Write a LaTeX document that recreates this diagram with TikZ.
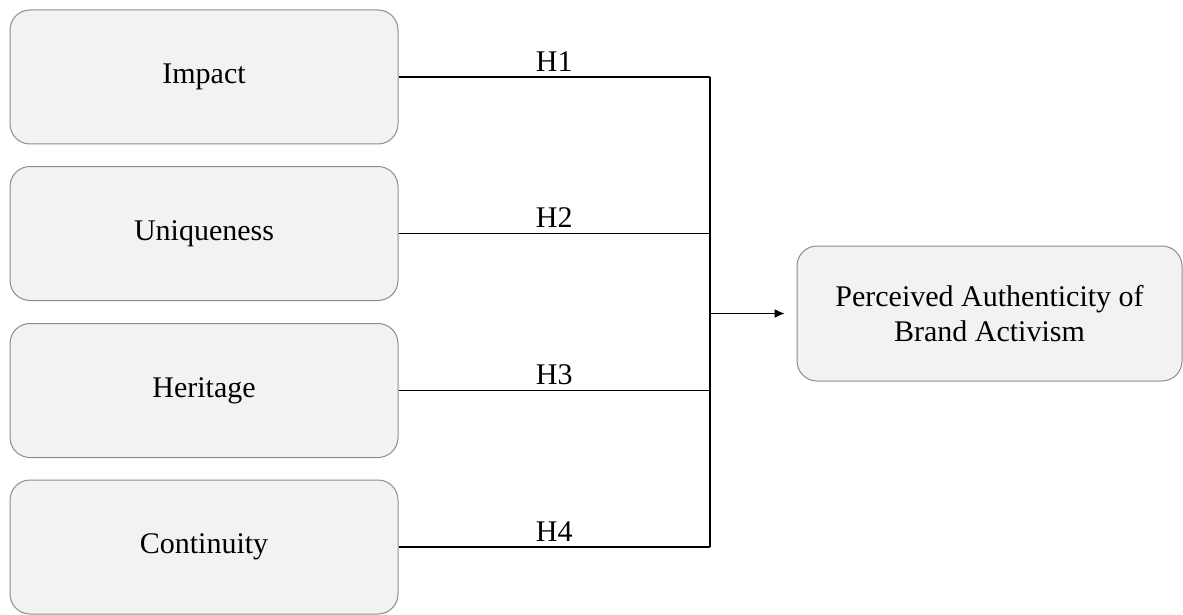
\documentclass[tikz,border=0pt]{standalone}
\usepackage{fontspec}
\setmainfont{Liberation Serif}
\usetikzlibrary{arrows.meta,calc}
\definecolor{boxfill}{HTML}{F2F2F2}
\definecolor{boxline}{HTML}{8C8C8C}
\tikzset{
  varbox/.style={draw=boxline, line width=0.5pt, fill=boxfill, rounded corners=10pt,
    minimum width=194pt, minimum height=67pt, align=center, inner sep=0pt,
    font=\fontsize{15}{17.5}\selectfont},
  link/.style={draw=black, line width=0.55pt},
  hlab/.style={above, inner sep=2.5pt, font=\fontsize{15}{17}\selectfont}
}
\begin{document}
\begin{tikzpicture}[x=0.5pt,y=-0.5pt]
\useasboundingbox (0,0) rectangle (1183,615);
\node[varbox] (imp) at (204,77) {Impact};
\node[varbox] (uni) at (204,233.5) {Uniqueness};
\node[varbox] (her) at (204,390.5) {Heritage};
\node[varbox] (con) at (204,547) {Continuity};
\node[varbox, minimum width=192.5pt, minimum height=67.5pt] (pa) at (989.5,313.5) {Perceived Authenticity of\\Brand Activism};
\coordinate (vx) at (710,0);
\draw[link] (imp.east) -- node[hlab] {H1} (imp.east -| vx);
\draw[link] (uni.east) -- node[hlab] {H2} (uni.east -| vx);
\draw[link] (her.east) -- node[hlab] {H3} (her.east -| vx);
\draw[link] (con.east) -- node[hlab] {H4} (con.east -| vx);
\draw[link] (vx |- imp.east) -- (vx |- con.east);
\draw[link, -{Latex[length=5pt,width=4.5pt]}, shorten >=6pt] (vx |- pa.west) -- (pa.west);
\end{tikzpicture}
\end{document}
